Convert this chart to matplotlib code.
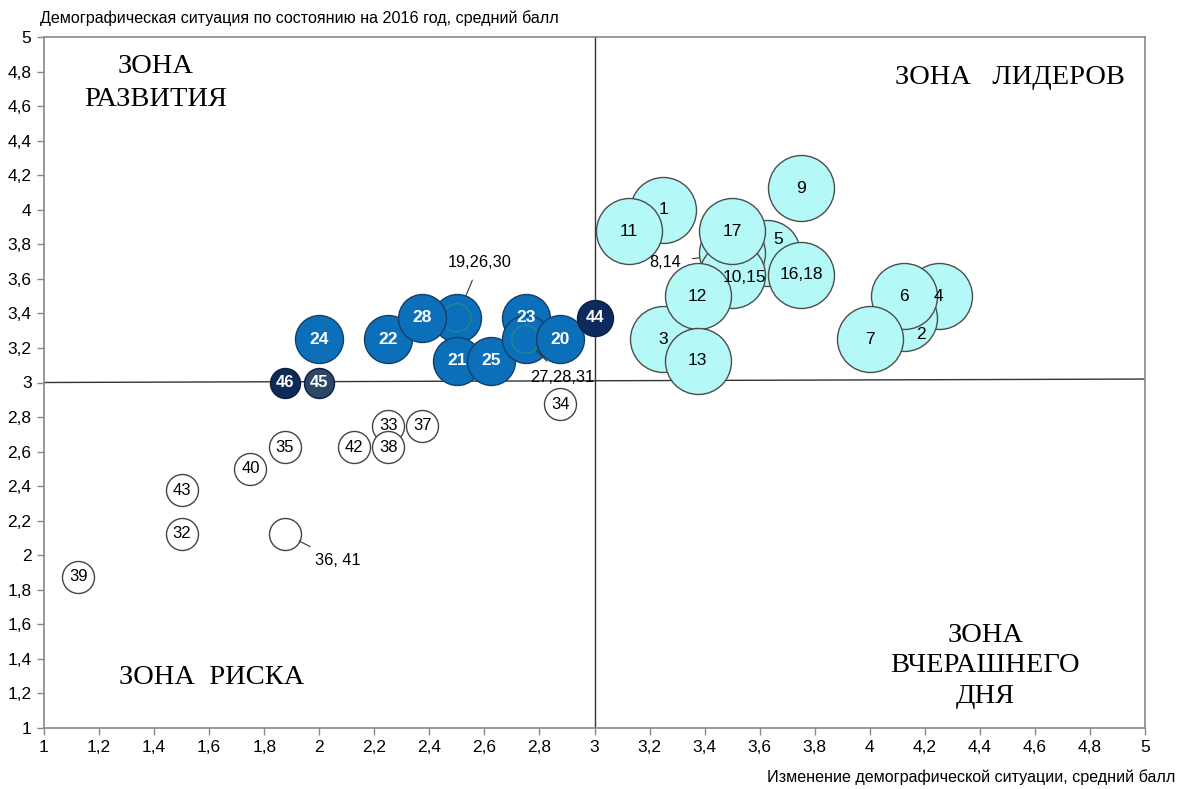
import matplotlib
matplotlib.use('Agg')
import matplotlib.pyplot as plt
from matplotlib.ticker import FixedLocator, FuncFormatter

# Пузырьковая диаграмма: изменение демографической ситуации vs ситуация на 2016 год

plt.rcParams['font.family'] = ['Liberation Sans', 'DejaVu Sans']

# --- данные ---
# зона лидеров (голубые)
lead_labels = ['1', '11', '9', '5', '8,14', '10,15', '17', '16,18', '3', '12', '13', '4', '2', '6', '7']
lead_x = [3.25, 3.125, 3.75, 3.625, 3.5, 3.5, 3.5, 3.75, 3.25, 3.375, 3.375, 4.25, 4.125, 4.125, 4.0]
lead_y = [4.0, 3.875, 4.125, 3.75, 3.75, 3.625, 3.875, 3.625, 3.25, 3.5, 3.125, 3.5, 3.375, 3.5, 3.25]

# зона развития (синие)
dev_labels = ['24', '22', '19,26,30', '28', '21', '25', '23', '27,28,31', '20']
dev_x = [2.0, 2.25, 2.5, 2.375, 2.5, 2.625, 2.75, 2.75, 2.875]
dev_y = [3.25, 3.25, 3.375, 3.375, 3.125, 3.125, 3.375, 3.25, 3.25]

# тёмные
dark_labels = ['44', '46', '45']
dark_x = [3.0, 1.875, 2.0]
dark_y = [3.375, 3.0, 3.0]

# зона риска (белые)
risk_labels = ['34', '33', '37', '42', '38', '35', '40', '43', '32', '36, 41', '39']
risk_x = [2.875, 2.25, 2.375, 2.125, 2.25, 1.875, 1.75, 1.5, 1.5, 1.875, 1.125]
risk_y = [2.875, 2.75, 2.75, 2.625, 2.625, 2.625, 2.5, 2.375, 2.125, 2.125, 1.875]

x_ticks = [1 + 0.2 * i for i in range(21)]
y_ticks = [1 + 0.2 * i for i in range(21)]

# --- оформление ---
px = 0.72  # пиксели -> пункты при dpi=100
r_lead, r_dev, r_risk = 33 * px, 24 * px, 16 * px
dark_r = {'44': 18 * px, '46': 15 * px, '45': 15 * px}
dark_col = {'44': '#0c2a5c', '46': '#0e2a58', '45': '#2d4767'}

# сдвиги подписей (в пунктах), подписи с выносками
shift = {'5': (8.5, 10), '10,15': (9, -2), '2': (12, -12)}
leader = {'8,14': ((-48, -7), r_lead),
          '19,26,30': ((16.5, 40), r_dev),
          '27,28,31': ((26.5, -27.5), 11),
          '36, 41': ((38, -19.5), r_risk)}

fig = plt.figure(figsize=(11.77, 7.89), dpi=100)
ax = fig.add_axes([44 / 1177, 1 - 728 / 789, (1145 - 44) / 1177, (728 - 37) / 789])
ax.set_xlim(1, 5)
ax.set_ylim(1, 5)

ax.axvline(3, color='#333333', lw=1.0, zorder=1)
ax.plot([1, 5], [3.0, 3.02], color='#333333', lw=1.0, zorder=1)


def put_label(lab, x, y, color, size, weight):
    if lab in leader:
        off, shr = leader[lab]
        ax.annotate(lab, (x, y), xytext=off, textcoords='offset points',
                    ha='center', va='center', fontsize=11.8, color='black', zorder=50,
                    arrowprops=dict(arrowstyle='-', color='#333333', lw=0.8,
                                    shrinkA=6, shrinkB=shr))
        return
    dx, dy = shift.get(lab, (0, 0))
    ax.annotate(lab, (x, y), xytext=(dx, dy), textcoords='offset points',
                ha='center', va='center', fontsize=size, color=color,
                fontweight=weight, zorder=50)


z = 10
for lab, x, y in zip(lead_labels, lead_x, lead_y):
    ax.scatter(x, y, s=(2 * r_lead) ** 2, color='#b4f8f8', edgecolor='#4d4d4d',
               linewidth=1.0, zorder=z)
    put_label(lab, x, y, 'black', 12.5, 'normal')
    z += 1

for lab, x, y in zip(dev_labels, dev_x, dev_y):
    ax.scatter(x, y, s=(2 * r_dev) ** 2, color='#0b6fba', edgecolor='#163f66',
               linewidth=1.0, zorder=z)
    if ',' in lab:
        ax.scatter(x, y, s=(2 * 14 * px) ** 2, facecolor='none', edgecolor='#1d8a8c',
                   linewidth=1.0, zorder=z + 0.2)
    put_label(lab, x, y, 'white', 12.5, 'bold')
    z += 1

for lab, x, y in zip(dark_labels, dark_x, dark_y):
    ax.scatter(x, y, s=(2 * dark_r[lab]) ** 2, color=dark_col[lab], edgecolor='#0a1f40',
               linewidth=1.0, zorder=z)
    put_label(lab, x, y, 'white', 12, 'bold')
    z += 1

for lab, x, y in zip(risk_labels, risk_x, risk_y):
    ax.scatter(x, y, s=(2 * r_risk) ** 2, color='white', edgecolor='#444444',
               linewidth=1.0, zorder=z)
    put_label(lab, x, y, 'black', 12, 'normal')
    z += 1

# зоны
zkw = dict(family=['Liberation Serif', 'DejaVu Serif'], fontsize=20.5, ha='center',
           va='center', color='black', zorder=60)
ax.text(1.405, 4.735, 'ЗОНА\nРАЗВИТИЯ', linespacing=1.4, **zkw)
ax.text(4.51, 4.763, 'ЗОНА   ЛИДЕРОВ', **zkw)
ax.text(4.42, 1.359, 'ЗОНА\nВЧЕРАШНЕГО\nДНЯ', linespacing=1.27, **zkw)
ax.text(1.61, 1.29, 'ЗОНА  РИСКА', **zkw)

# оси
fmt = FuncFormatter(lambda v, p: ('%.1f' % v).rstrip('0').rstrip('.').replace('.', ','))
ax.xaxis.set_major_locator(FixedLocator(x_ticks))
ax.yaxis.set_major_locator(FixedLocator(y_ticks))
ax.xaxis.set_major_formatter(fmt)
ax.yaxis.set_major_formatter(fmt)
ax.tick_params(direction='out', length=5, width=1, color='#888888', labelsize=12.5,
               pad=4)
for sp in ax.spines.values():
    sp.set_color('#888888')
    sp.set_linewidth(1.2)

fig.text(40 / 1177, 1 - 18 / 789, 'Демографическая ситуация по состоянию на 2016 год, средний балл',
         fontsize=11.6, ha='left', va='center')
fig.text(1175 / 1177, 1 - 777 / 789, 'Изменение демографической ситуации, средний балл',
         fontsize=11.6, ha='right', va='center')

fig.savefig('out.png', dpi=100)
